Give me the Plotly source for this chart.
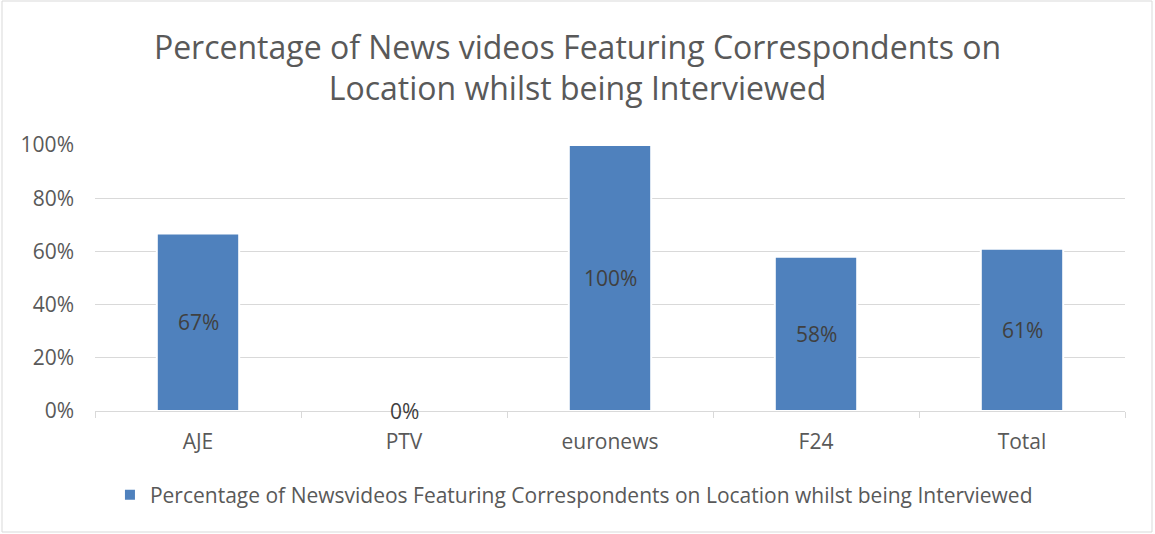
import plotly.graph_objects as go

categories = ["AJE", "PTV", "euronews", "F24", "Total"]
values = [0.667, 0.0, 1.0, 0.58, 0.61]
series_name = "Percentage of Newsvideos Featuring Correspondents on Location whilst being Interviewed"
title_text = "Percentage of News videos Featuring Correspondents on<br>Location whilst being Interviewed"
y_ticks = [0, 0.2, 0.4, 0.6, 0.8, 1.0]

FONT = "Open Sans"
GREY = "#595959"
BLUE = "#4F81BD"

fig = go.Figure()
fig.add_trace(go.Bar(
    x=categories, y=values, name=series_name,
    marker=dict(color=BLUE, line=dict(color="white", width=2)),
    showlegend=True,
))

for c, v in zip(categories, values):
    fig.add_annotation(x=c, y=v / 2, text=f"{v:.0%}", showarrow=False,
                       font=dict(family=FONT, size=21, color="#404040"))

fig.update_layout(
    width=1155, height=534,
    margin=dict(l=95, r=30, t=145, b=123),
    paper_bgcolor="white", plot_bgcolor="white",
    bargap=0.6,
    title=dict(text=title_text, x=0.5, xanchor="center", y=0.89, yanchor="middle",
               font=dict(family=FONT, size=32, color=GREY)),
    font=dict(family=FONT, color=GREY),
    showlegend=True,
    legend=dict(orientation="h", x=0.465, xanchor="center", y=-0.316, yanchor="middle",
                font=dict(family=FONT, size=21, color=GREY), itemwidth=30),
    xaxis=dict(showline=True, linecolor="#D9D9D9", linewidth=1, ticks="outside",
               tickson="boundaries", ticklen=6, tickcolor="#D9D9D9",
               tickfont=dict(family=FONT, size=21, color=GREY), showgrid=False,
               ticklabelstandoff=12),
    yaxis=dict(range=[0, 1.0], tickvals=y_ticks, tickformat=".0%",
               showgrid=True, gridcolor="#D9D9D9", gridwidth=1, zeroline=False,
               tickfont=dict(family=FONT, size=21, color=GREY), ticklabelstandoff=20),
)

fig.add_shape(type="rect", xref="paper", yref="paper",
              x0=(2 - 95) / 1030, x1=(1152 - 95) / 1030,
              y0=(411 - 532) / 266, y1=(411 - 1) / 266,
              line=dict(color="#D9D9D9", width=1), fillcolor="rgba(0,0,0,0)", layer="below")

fig.write_html("out.html", config={"displayModeBar": False},
               post_script="document.body.style.margin='0';")
